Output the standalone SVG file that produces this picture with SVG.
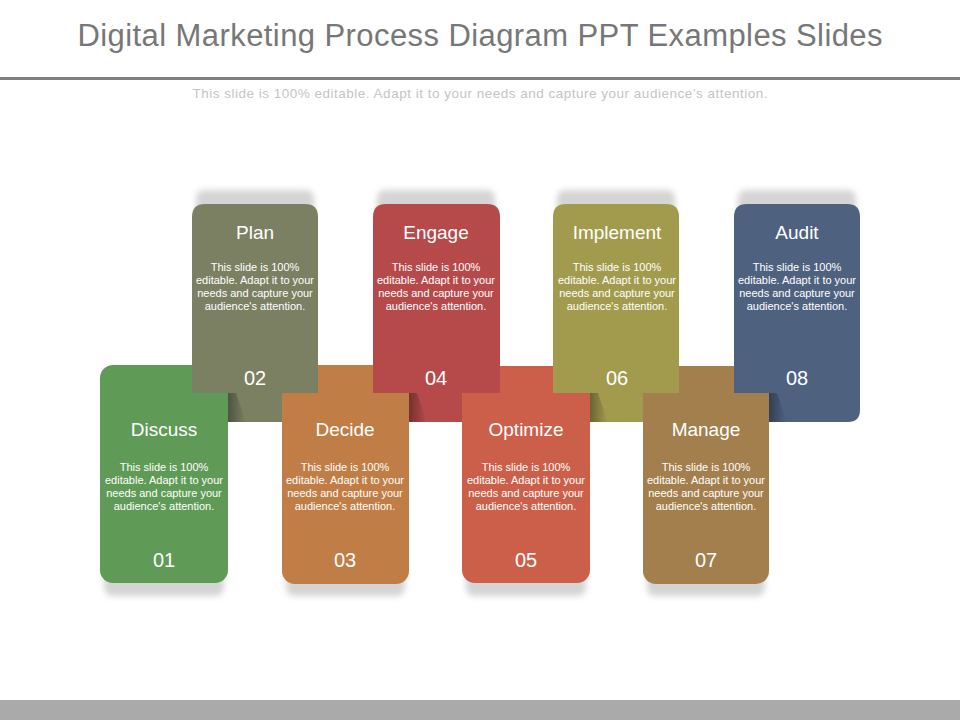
<svg xmlns="http://www.w3.org/2000/svg" width="960" height="720" viewBox="0 0 960 720">
<style>
.t{font-family:"Liberation Sans",Arial,sans-serif;fill:#ffffff;text-anchor:middle}
.h{font-size:19px}
.b{font-size:11px}
.n{font-size:20px}
.curl{fill:url(#curlg)}
</style>
<defs>
<filter id="blur" x="-20%" y="-50%" width="140%" height="200%"><feGaussianBlur stdDeviation="3"/></filter>
<linearGradient id="curlg" x1="0" y1="0" x2="1" y2="0">
<stop offset="0" stop-color="#000" stop-opacity="0.35"/>
<stop offset="1" stop-color="#000" stop-opacity="0"/>
</linearGradient>
</defs>
<rect width="960" height="720" fill="#ffffff"/>
<text x="480" y="46" textLength="805" lengthAdjust="spacing" style="font-family:'Liberation Sans',Arial,sans-serif;font-size:31px;fill:#777777;text-anchor:middle">Digital Marketing Process Diagram PPT Examples Slides</text>
<rect x="0" y="77" width="960" height="3" fill="#808080"/>
<text x="480" y="98" textLength="575" lengthAdjust="spacing" style="font-family:'Liberation Sans',Arial,sans-serif;font-size:13.5px;fill:#c4c4c4;text-anchor:middle">This slide is 100% editable. Adapt it to your needs and capture your audience’s attention.</text>
<rect x="0" y="700" width="960" height="20" fill="#aaaaaa"/>

<g id="shadows" filter="url(#blur)" fill="#d4d4d4">
<rect x="196" y="190" width="118" height="30" rx="8"/>
<rect x="377" y="190" width="118" height="30" rx="8"/>
<rect x="557" y="190" width="118" height="30" rx="8"/>
<rect x="738" y="190" width="118" height="30" rx="8"/>
<rect x="104" y="568" width="120" height="28" rx="8"/>
<rect x="286" y="568" width="119" height="28" rx="8"/>
<rect x="466" y="568" width="120" height="28" rx="8"/>
<rect x="647" y="568" width="118" height="28" rx="8"/>
</g>

<g id="tabs">
<rect x="192" y="380" width="126" height="42" fill="#7b8063"/>
<rect x="373" y="380" width="127" height="42" fill="#b64a4b"/>
<rect x="553" y="380" width="126" height="42" fill="#a29b4d"/>
<path d="M734 380 H860 V410 Q860 422 848 422 H734 Z" fill="#4e6280"/>
<polygon class="curl" points="228,393 236,393 246,422 228,422"/>
<polygon class="curl" points="409,393 417,393 427,422 409,422"/>
<polygon class="curl" points="590,393 598,393 608,422 590,422"/>
<polygon class="curl" points="769,393 777,393 787,422 769,422"/>
</g>

<g id="node-discuss">
<rect x="100" y="365" width="128" height="218" rx="13" fill="#5f9a56"/>
<text class="t h" x="164" y="436">Discuss</text>
<text class="t b" x="164" y="471">This slide is 100%</text>
<text class="t b" x="164" y="484">editable.  Adapt it to your</text>
<text class="t b" x="164" y="497">needs and capture your</text>
<text class="t b" x="164" y="510">audience's attention.</text>
<text class="t n" x="164" y="567">01</text>
</g>
<g id="node-decide">
<rect x="282" y="365" width="127" height="219" rx="13" fill="#c17d46"/>
<text class="t h" x="345" y="436">Decide</text>
<text class="t b" x="345" y="471">This slide is 100%</text>
<text class="t b" x="345" y="484">editable.  Adapt it to your</text>
<text class="t b" x="345" y="497">needs and capture your</text>
<text class="t b" x="345" y="510">audience's attention.</text>
<text class="t n" x="345" y="567">03</text>
</g>
<g id="node-optimize">
<rect x="462" y="366" width="128" height="217" rx="13" fill="#cc5f4a"/>
<text class="t h" x="526" y="436">Optimize</text>
<text class="t b" x="526" y="471">This slide is 100%</text>
<text class="t b" x="526" y="484">editable.  Adapt it to your</text>
<text class="t b" x="526" y="497">needs and capture your</text>
<text class="t b" x="526" y="510">audience's attention.</text>
<text class="t n" x="526" y="567">05</text>
</g>
<g id="node-manage">
<rect x="643" y="366" width="126" height="218" rx="13" fill="#a27f4c"/>
<text class="t h" x="706" y="436">Manage</text>
<text class="t b" x="706" y="471">This slide is 100%</text>
<text class="t b" x="706" y="484">editable.  Adapt it to your</text>
<text class="t b" x="706" y="497">needs and capture your</text>
<text class="t b" x="706" y="510">audience's attention.</text>
<text class="t n" x="706" y="567">07</text>
</g>

<g id="node-plan">
<path d="M192 393 V217 Q192 204 205 204 H305 Q318 204 318 217 V393 Z" fill="#7b8063"/>
<text class="t h" x="255" y="239">Plan</text>
<text class="t b" x="255" y="271">This slide is 100%</text>
<text class="t b" x="255" y="284">editable.  Adapt it to your</text>
<text class="t b" x="255" y="297">needs and capture your</text>
<text class="t b" x="255" y="310">audience's attention.</text>
<text class="t n" x="255" y="385">02</text>
</g>
<g id="node-engage">
<path d="M373 393 V217 Q373 204 386 204 H487 Q500 204 500 217 V393 Z" fill="#b64a4b"/>
<text class="t h" x="436" y="239">Engage</text>
<text class="t b" x="436" y="271">This slide is 100%</text>
<text class="t b" x="436" y="284">editable.  Adapt it to your</text>
<text class="t b" x="436" y="297">needs and capture your</text>
<text class="t b" x="436" y="310">audience's attention.</text>
<text class="t n" x="436" y="385">04</text>
</g>
<g id="node-implement">
<path d="M553 393 V217 Q553 204 566 204 H666 Q679 204 679 217 V393 Z" fill="#a29b4d"/>
<text class="t h" x="617" y="239">Implement</text>
<text class="t b" x="617" y="271">This slide is 100%</text>
<text class="t b" x="617" y="284">editable.  Adapt it to your</text>
<text class="t b" x="617" y="297">needs and capture your</text>
<text class="t b" x="617" y="310">audience's attention.</text>
<text class="t n" x="617" y="385">06</text>
</g>
<g id="node-audit">
<path d="M734 393 V217 Q734 204 747 204 H847 Q860 204 860 217 V393 Z" fill="#4e6280"/>
<text class="t h" x="797" y="239">Audit</text>
<text class="t b" x="797" y="271">This slide is 100%</text>
<text class="t b" x="797" y="284">editable.  Adapt it to your</text>
<text class="t b" x="797" y="297">needs and capture your</text>
<text class="t b" x="797" y="310">audience's attention.</text>
<text class="t n" x="797" y="385">08</text>
</g>
<g id="connectors"></g>
</svg>
